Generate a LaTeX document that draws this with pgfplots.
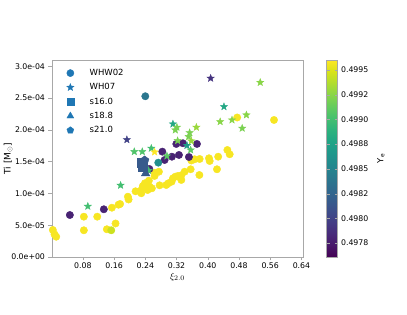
\documentclass[border=0pt]{standalone}
\usepackage{fontspec}
\setmainfont{DejaVu Sans}
\usepackage{pgfplots}
\usepackage{pgfplotstable}
\pgfplotsset{compat=1.18}
\usetikzlibrary{plotmarks}
\definecolor{mplblue}{HTML}{1F77B4}
\definecolor{framegray}{HTML}{A8A8A8}

\pgfdeclareplotmark{fstar}{%
  \pgfpathmoveto{\pgfpointpolar{90}{\pgfplotmarksize}}%
  \pgfpathlineto{\pgfpointpolar{126}{0.42\pgfplotmarksize}}%
  \pgfpathlineto{\pgfpointpolar{162}{\pgfplotmarksize}}%
  \pgfpathlineto{\pgfpointpolar{198}{0.42\pgfplotmarksize}}%
  \pgfpathlineto{\pgfpointpolar{234}{\pgfplotmarksize}}%
  \pgfpathlineto{\pgfpointpolar{270}{0.42\pgfplotmarksize}}%
  \pgfpathlineto{\pgfpointpolar{306}{\pgfplotmarksize}}%
  \pgfpathlineto{\pgfpointpolar{342}{0.42\pgfplotmarksize}}%
  \pgfpathlineto{\pgfpointpolar{18}{\pgfplotmarksize}}%
  \pgfpathlineto{\pgfpointpolar{54}{0.42\pgfplotmarksize}}%
  \pgfpathclose
  \pgfusepathqfillstroke
}

\pgfplotstableread{
x y m
0.0031 4.25e-5 0.49958
0.0074 3.57e-5 0.49958
0.0118 3.19e-5 0.49958
0.0826 6.34e-5 0.49958
0.0826 4.20e-5 0.49958
0.1169 6.34e-5 0.49958
0.1415 4.36e-5 0.49958
0.1638 5.27e-5 0.49958
0.1544 7.75e-5 0.49958
0.1715 8.22e-5 0.49958
0.1754 8.33e-5 0.49958
0.1954 9.48e-5 0.49958
0.1972 9.04e-5 0.49958
0.2151 10.33e-5 0.49958
0.2297 10.02e-5 0.49958
0.2323 10.80e-5 0.49958
0.2338 11.16e-5 0.49958
0.2390 11.59e-5 0.49958
0.2492 12.00e-5 0.49958
0.2510 11.05e-5 0.49958
0.2569 10.80e-5 0.49958
0.2638 12.74e-5 0.49958
0.2646 13.25e-5 0.49958
0.2749 13.41e-5 0.49958
0.2767 11.27e-5 0.49958
0.2938 11.32e-5 0.49958
0.2990 11.59e-5 0.49958
0.3074 11.84e-5 0.49958
0.3108 12.37e-5 0.49958
0.3169 12.63e-5 0.49958
0.3236 12.74e-5 0.49958
0.3323 12.85e-5 0.49958
0.3323 12.11e-5 0.49958
0.3408 13.41e-5 0.49958
0.3562 13.79e-5 0.49958
0.3785 12.89e-5 0.49958
0.4236 13.79e-5 0.49958
0.3579 15.17e-5 0.49958
0.3664 15.36e-5 0.49958
0.3792 15.41e-5 0.49958
0.4031 15.52e-5 0.49958
0.4049 15.09e-5 0.49958
0.4267 15.77e-5 0.49958
0.4503 16.82e-5 0.49958
0.4562 16.15e-5 0.49958
0.4754 21.93e-5 0.49958
0.5697 21.54e-5 0.49958
0.2459 10.53e-5 0.49958
0.2272 10.38e-5 0.49958
0.1528 4.20e-5 0.49945
0.0467 6.60e-5 0.4978
0.1338 7.50e-5 0.4978
0.2836 16.56e-5 0.4978
0.2895 15.25e-5 0.4978
0.3082 15.77e-5 0.4978
0.3262 16.04e-5 0.4978
0.3518 15.72e-5 0.4978
0.3195 17.77e-5 0.4978
0.3364 17.88e-5 0.4978
0.3723 17.77e-5 0.4978
0.2503 13.84e-5 0.4978
0.2733 14.83e-5 0.4986
0.2400 25.27e-5 0.49839
}\circles

\pgfplotstableread{
x y m
0.0928 7.97e-5 0.4990
0.1767 11.27e-5 0.4990
0.2118 16.56e-5 0.49905
0.2323 16.56e-5 0.49905
0.2554 17.09e-5 0.4990
0.2485 13.60e-5 0.4990
0.2954 15.88e-5 0.4991
0.3108 20.91e-5 0.4988
0.3169 19.97e-5 0.4992
0.3210 20.39e-5 0.4992
0.3228 18.29e-5 0.4992
0.3536 19.54e-5 0.4992
0.3510 18.92e-5 0.4992
0.3579 18.24e-5 0.4993
0.3562 16.82e-5 0.4991
0.3708 20.39e-5 0.4993
0.3467 17.53e-5 0.4987
0.4318 21.27e-5 0.49925
0.4621 21.54e-5 0.49925
0.4882 20.24e-5 0.4992
0.4990 22.33e-5 0.49925
0.5344 27.44e-5 0.49925
0.4415 23.63e-5 0.4988
0.4074 28.10e-5 0.4979
0.1928 18.44e-5 0.4980
0.2638 16.51e-5 0.4996
}\stars

\pgfplotstableread{
x y m
0.2292 14.86e-5 0.49817
0.2331 14.15e-5 0.49817
}\squares

\pgfplotstableread{
x y m
0.2408 13.13e-5 0.49817
}\triangles

\pgfplotstableread{
x y m
0.2382 15.17e-5 0.49817
}\pentagons

\begin{document}
\begin{tikzpicture}
\path[use as bounding box] (-52pt,-58pt) rectangle (355pt,257pt);
\begin{axis}[
  at={(0,0)}, anchor=south west,
  scale only axis, width=251pt, height=197pt,
  xmin=0.001, xmax=0.644, ymin=0, ymax=3.097e-4,
  axis line style={framegray},
  tick style={framegray}, tick align=outside, major tick length=3.5pt,
  xtick={0.08,0.16,0.24,0.32,0.40,0.48,0.56,0.64},
  xticklabels={0.08,0.16,0.24,0.32,0.40,0.48,0.56,0.64},
  ytick={0,0.5e-4,1e-4,1.5e-4,2e-4,2.5e-4,3e-4},
  yticklabels={0.0e+00,5.0e-05,1.0e-04,1.5e-04,2.0e-04,2.5e-04,3.0e-04},
  scaled x ticks=false, scaled y ticks=false,
  xtick pos=bottom, ytick pos=left,
  ticklabel style={font=\fontsize{7.8}{9}\selectfont},
  xticklabel style={yshift=1pt},
  xlabel={\fontsize{9.5}{11}\selectfont$\xi_{2.0}$},
  ylabel={\fontsize{9}{11}\selectfont Ti [M\textsubscript{$\odot$}]},
  xlabel style={yshift=3pt},
  ylabel shift=-8pt,
  colormap/viridis,
  point meta min=0.49761, point meta max=0.49960,
  colorbar,
  colorbar style={
    at={(parent axis.north east)}, anchor=north west, xshift=15pt,
    width=11pt, scale only axis,
    axis line style={framegray}, tick style={framegray},
    major tick length=3pt,
    ytick={0.49775,0.498,0.49825,0.4985,0.49875,0.499,0.49925,0.4995},
    yticklabels={0.4978,0.4980,0.4982,0.4985,0.4988,0.4990,0.4992,0.4995},
    scaled y ticks=false,
    ticklabel style={font=\fontsize{7.8}{9}\selectfont},
    ylabel={\fontsize{8.5}{10}\selectfont Y\textsubscript{e}},
    ylabel style={yshift=-2pt},
  },
  legend style={at={(0.0,1)}, anchor=north west, xshift=5pt, yshift=-5pt,
    draw=none, fill=none, font=\fontsize{8.5}{10}\selectfont,
    row sep=2.5pt, legend cell align=left},
  legend image code/.code={\draw[#1] plot coordinates {(0.35cm,0cm)}; \path (0cm,-0.1cm) (0.95cm,0.1cm);},
]
\addlegendimage{only marks, mark=*, mark size=3.6pt, color=mplblue}
\addlegendentry{WHW02}
\addlegendimage{only marks, mark=fstar, mark size=3.8pt, color=mplblue, fill=mplblue}
\addlegendentry{WH07}
\addlegendimage{only marks, mark=square*, mark size=3.6pt, color=mplblue}
\addlegendentry{s16.0}
\addlegendimage{only marks, mark=triangle*, mark size=4pt, color=mplblue}
\addlegendentry{s18.8}
\addlegendimage{only marks, mark=pentagon*, mark size=3.6pt, color=mplblue}
\addlegendentry{s21.0}

\addplot[scatter, only marks, mark=*, mark size=3.7pt, point meta=explicit,
  scatter/use mapped color={draw=mapped color, fill=mapped color}, forget plot]
  table[x=x, y=y, meta=m] {\circles};
\addplot[scatter, only marks, mark=fstar, mark size=3.8pt, point meta=explicit,
  scatter/use mapped color={draw=mapped color, fill=mapped color}, forget plot]
  table[x=x, y=y, meta=m] {\stars};
\addplot[scatter, only marks, mark=square*, mark size=4.3pt, point meta=explicit,
  scatter/use mapped color={draw=mapped color, fill=mapped color}, forget plot]
  table[x=x, y=y, meta=m] {\squares};
\addplot[scatter, only marks, mark=triangle*, mark size=5pt, point meta=explicit,
  scatter/use mapped color={draw=mapped color, fill=mapped color}, forget plot]
  table[x=x, y=y, meta=m] {\triangles};
\addplot[scatter, only marks, mark=pentagon*, mark size=4.6pt, point meta=explicit,
  scatter/use mapped color={draw=mapped color, fill=mapped color}, forget plot]
  table[x=x, y=y, meta=m] {\pentagons};
\end{axis}
\end{tikzpicture}
\end{document}
